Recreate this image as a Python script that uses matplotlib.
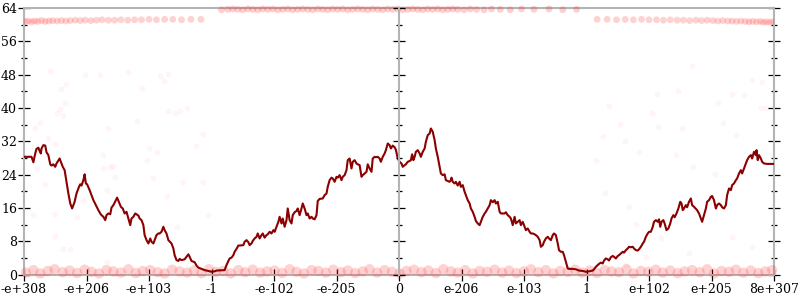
import numpy as np
import matplotlib
matplotlib.use('Agg')
import matplotlib.pyplot as plt

# x positions are encoded on a symmetric scale: -6 .. 6
tick_pos = [-6, -5, -4, -3, -2, -1, 0, 1, 2, 3, 4, 5, 6]
tick_labels = ['-e+308', '-e+206', '-e+103', '-1', '-e-102', '-e-205', '0',
               'e-206', 'e-103', '1', 'e+102', 'e+205', '8e+307']

# line
q1 = [(-6.02, 28.3), (-5.88, 28.3), (-5.85, 27.0), (-5.82, 29.1), (-5.80, 30.2), (-5.77, 30.5),
      (-5.75, 29.7), (-5.73, 29.1), (-5.72, 30.3), (-5.69, 31.1), (-5.66, 31.0), (-5.64, 29.4),
      (-5.61, 28.7), (-5.58, 26.5), (-5.56, 26.2), (-5.53, 26.5), (-5.50, 25.9), (-5.48, 26.7),
      (-5.43, 27.9), (-5.41, 27.1), (-5.38, 25.9), (-5.35, 25.1), (-5.32, 22.3), (-5.29, 19.5),
      (-5.26, 17.1), (-5.23, 15.9), (-5.19, 17.5), (-5.16, 19.5), (-5.12, 21.1), (-5.10, 21.7),
      (-5.08, 21.4), (-5.05, 22.7), (-5.03, 24.1), (-5.01, 21.9), (-4.99, 21.7), (-4.95, 20.3),
      (-4.92, 19.1), (-4.89, 17.9), (-4.85, 16.7), (-4.81, 15.5), (-4.78, 14.7), (-4.76, 14.3),
      (-4.73, 13.9), (-4.70, 13.1), (-4.68, 14.3), (-4.65, 14.7), (-4.62, 14.5), (-4.60, 16.1),
      (-4.57, 16.7), (-4.53, 17.9), (-4.51, 18.5), (-4.48, 17.4), (-4.45, 16.3), (-4.42, 15.9),
      (-4.39, 14.7), (-4.36, 15.1), (-4.33, 13.5), (-4.30, 11.9), (-4.28, 13.5), (-4.25, 13.9),
      (-4.22, 14.7), (-4.20, 14.5), (-4.17, 14.2), (-4.15, 13.5), (-4.12, 13.1), (-4.09, 11.9),
      (-4.07, 9.5), (-4.04, 8.3), (-4.01, 7.5), (-3.98, 8.7), (-3.96, 7.9), (-3.93, 7.5),
      (-3.91, 8.3), (-3.88, 9.5), (-3.85, 9.9), (-3.83, 9.9), (-3.80, 10.3), (-3.77, 11.5),
      (-3.75, 10.7), (-3.72, 9.9), (-3.69, 8.3), (-3.64, 7.5), (-3.61, 6.3), (-3.59, 4.7),
      (-3.56, 3.5), (-3.53, 3.3), (-3.51, 3.8), (-3.48, 3.5), (-3.43, 3.7), (-3.40, 4.3),
      (-3.37, 4.9), (-3.35, 4.3), (-3.32, 3.3), (-3.27, 3.0), (-3.24, 2.2), (-3.21, 1.7),
      (-3.16, 1.4), (-3.11, 1.1), (-3.05, 0.9), (-3.00, 0.7)]
q2 = [(-2.95, 0.8), (-2.92, 1.0), (-2.79, 1.1), (-2.76, 2.3), (-2.73, 3.3), (-2.71, 3.9),
      (-2.68, 4.1), (-2.65, 4.7), (-2.63, 5.5), (-2.60, 6.2), (-2.57, 7.0), (-2.55, 7.0),
      (-2.49, 7.1), (-2.47, 7.9), (-2.44, 8.3), (-2.41, 7.8), (-2.39, 7.1), (-2.36, 7.5),
      (-2.34, 8.1), (-2.31, 8.7), (-2.28, 9.1), (-2.26, 9.9), (-2.23, 8.7), (-2.20, 9.5),
      (-2.18, 9.9), (-2.15, 8.9), (-2.12, 9.5), (-2.10, 9.7), (-2.07, 10.3), (-2.04, 9.9),
      (-2.01, 10.7), (-1.99, 10.3), (-1.96, 11.5), (-1.93, 12.7), (-1.91, 13.9), (-1.88, 12.3),
      (-1.86, 13.5), (-1.83, 11.5), (-1.80, 13.1), (-1.78, 15.9), (-1.75, 13.1), (-1.72, 12.3),
      (-1.70, 14.3), (-1.67, 15.0), (-1.64, 15.3), (-1.62, 15.9), (-1.59, 14.3), (-1.56, 15.9),
      (-1.54, 17.1), (-1.51, 15.9), (-1.48, 14.3), (-1.46, 14.7), (-1.43, 13.5), (-1.40, 13.9),
      (-1.38, 13.5), (-1.35, 13.3), (-1.32, 14.3), (-1.30, 17.7), (-1.27, 18.2), (-1.22, 18.3),
      (-1.19, 19.1), (-1.16, 19.5), (-1.14, 21.1), (-1.11, 22.7), (-1.08, 23.3), (-1.06, 23.1),
      (-1.03, 22.3), (-1.00, 23.5), (-0.98, 23.3), (-0.95, 23.9), (-0.92, 22.7), (-0.90, 23.5),
      (-0.87, 23.9), (-0.84, 25.1), (-0.82, 27.5), (-0.79, 27.9), (-0.76, 25.5), (-0.74, 27.1),
      (-0.71, 27.5), (-0.68, 26.7), (-0.66, 26.5), (-0.63, 26.3), (-0.60, 23.5), (-0.58, 23.9),
      (-0.55, 24.3), (-0.52, 24.7), (-0.50, 26.5), (-0.47, 25.5), (-0.44, 24.7), (-0.42, 27.9),
      (-0.39, 28.3), (-0.37, 28.2), (-0.34, 28.3), (-0.31, 27.9), (-0.29, 27.1), (-0.26, 28.3),
      (-0.23, 29.1), (-0.21, 29.9), (-0.18, 31.5), (-0.15, 31.1), (-0.13, 30.3), (-0.10, 31.0),
      (-0.07, 30.6), (-0.05, 30.0), (-0.02, 27.9)]
q3 = [(0.01, 27.1), (0.04, 26.7), (0.06, 25.9), (0.09, 26.3), (0.11, 26.5), (0.14, 27.1),
      (0.17, 27.3), (0.19, 27.5), (0.21, 28.9), (0.23, 27.5), (0.25, 28.3), (0.27, 29.5),
      (0.30, 29.9), (0.33, 29.1), (0.35, 28.3), (0.38, 29.5), (0.41, 30.3), (0.43, 31.9),
      (0.46, 33.5), (0.49, 33.9), (0.51, 35.1), (0.54, 34.3), (0.57, 32.3), (0.59, 30.3),
      (0.62, 28.3), (0.65, 25.9), (0.67, 24.3), (0.70, 23.9), (0.73, 24.1), (0.75, 22.7),
      (0.78, 22.5), (0.81, 22.3), (0.83, 22.7), (0.84, 23.3), (0.86, 22.3), (0.89, 21.9),
      (0.91, 22.3), (0.94, 21.4), (0.97, 22.3), (0.99, 21.1), (1.02, 21.5), (1.05, 19.9),
      (1.07, 19.1), (1.10, 17.9), (1.13, 17.1), (1.15, 15.9), (1.18, 15.1), (1.21, 13.9),
      (1.23, 12.9), (1.26, 12.3), (1.29, 11.9), (1.31, 12.7), (1.34, 13.9), (1.37, 14.7),
      (1.39, 15.1), (1.42, 15.9), (1.45, 16.7), (1.47, 17.9), (1.50, 17.4), (1.53, 17.9),
      (1.55, 17.1), (1.58, 17.5), (1.61, 15.1), (1.63, 14.7), (1.69, 14.7), (1.71, 15.0),
      (1.74, 14.3), (1.77, 13.9), (1.79, 13.5), (1.82, 11.9), (1.85, 13.9), (1.87, 12.3),
      (1.90, 12.7), (1.93, 13.1), (1.95, 11.9), (1.98, 12.7), (2.01, 11.5), (2.03, 10.7),
      (2.06, 11.1), (2.09, 10.3), (2.11, 9.9), (2.14, 9.9), (2.17, 9.7), (2.19, 9.5),
      (2.22, 9.1), (2.25, 8.3), (2.27, 6.7), (2.30, 7.1), (2.32, 7.9), (2.35, 8.7),
      (2.38, 9.1), (2.40, 8.7), (2.43, 8.3), (2.46, 9.5), (2.48, 9.9), (2.51, 9.5),
      (2.54, 7.5), (2.56, 5.9), (2.59, 5.5), (2.62, 5.5), (2.64, 4.7), (2.67, 3.1),
      (2.70, 1.5), (2.72, 1.4), (2.78, 1.4), (2.83, 1.3), (2.88, 1.0), (2.94, 0.9), (2.99, 0.7)]
q4 = [(3.04, 0.8), (3.10, 1.0), (3.12, 1.3), (3.15, 1.9), (3.18, 2.3), (3.20, 2.6),
      (3.23, 2.9), (3.26, 2.7), (3.28, 3.4), (3.31, 3.9), (3.34, 3.7), (3.36, 3.4),
      (3.39, 4.2), (3.42, 4.5), (3.44, 4.3), (3.47, 3.9), (3.50, 4.5), (3.52, 4.7),
      (3.55, 5.1), (3.58, 5.5), (3.60, 5.3), (3.63, 5.9), (3.66, 6.3), (3.68, 6.7),
      (3.71, 6.6), (3.74, 6.7), (3.76, 6.3), (3.79, 5.9), (3.82, 5.8), (3.84, 6.1),
      (3.87, 6.7), (3.90, 7.5), (3.92, 7.9), (3.95, 9.1), (3.98, 9.9), (4.00, 10.3),
      (4.03, 10.3), (4.06, 11.5), (4.08, 12.7), (4.11, 13.1), (4.14, 12.7), (4.16, 13.3),
      (4.18, 11.5), (4.20, 12.7), (4.23, 13.1), (4.25, 12.3), (4.28, 10.7), (4.31, 11.1),
      (4.34, 12.3), (4.36, 13.5), (4.39, 14.3), (4.41, 13.8), (4.44, 14.7), (4.47, 15.9),
      (4.50, 17.5), (4.52, 17.1), (4.54, 15.5), (4.56, 15.9), (4.59, 16.7), (4.61, 16.2),
      (4.64, 17.5), (4.67, 18.3), (4.69, 16.7), (4.72, 16.3), (4.77, 15.5), (4.80, 14.7),
      (4.83, 13.5), (4.85, 12.7), (4.88, 14.3), (4.91, 15.9), (4.93, 17.5), (4.96, 17.9),
      (4.99, 18.7), (5.01, 18.9), (5.04, 17.9), (5.07, 15.9), (5.09, 16.7), (5.12, 17.1),
      (5.15, 16.7), (5.17, 16.2), (5.20, 15.9), (5.23, 16.7), (5.25, 19.1), (5.28, 20.7),
      (5.31, 20.3), (5.33, 21.5), (5.36, 21.9), (5.39, 22.7), (5.41, 23.1), (5.44, 24.3),
      (5.47, 25.1), (5.49, 24.3), (5.52, 25.5), (5.55, 26.7), (5.57, 27.5), (5.60, 28.3),
      (5.63, 28.7), (5.65, 27.9), (5.68, 29.5), (5.71, 28.7), (5.72, 29.9), (5.74, 27.5),
      (5.76, 28.7), (5.79, 27.9), (5.81, 27.1), (5.84, 26.7), (5.89, 26.6), (6.00, 26.6)]

# faint sample points: the dense bands ...
low_x = [-5.97, -5.85, -5.74, -5.62, -5.51, -5.38, -5.27, -5.15, -5.03, -4.92, -4.80, -4.68,
         -4.57, -4.45, -4.33, -4.21, -4.10, -3.98, -3.86, -3.75, -3.63, -3.51, -3.39, -3.28,
         -3.16, -3.04, -2.93, -2.81, -2.69, -2.57, -2.46, -2.34, -2.22, -2.11, -1.99, -1.87,
         -1.75, -1.64, -1.52, -1.40, -1.29, -1.17, -1.05, -0.93, -0.82, -0.70, -0.58, -0.47,
         -0.35, -0.23, -0.11, 0.01, 0.12, 0.24, 0.36, 0.47, 0.59, 0.71, 0.83, 0.94,
         1.06, 1.18, 1.29, 1.41, 1.53, 1.65, 1.76, 1.88, 2.00, 2.11, 2.23, 2.35,
         2.47, 2.58, 2.70, 2.82, 2.93, 3.05, 3.17, 3.29, 3.40, 3.52, 3.64, 3.75,
         3.87, 3.99, 4.11, 4.22, 4.34, 4.46, 4.57, 4.69, 4.81, 4.93, 5.04, 5.16,
         5.28, 5.39, 5.51, 5.63, 5.75, 5.86, 5.97]
low_y = [0.5, 1.1, 0.3, 0.9, 1.3, 0.6, 1.0, 0.4, 1.2, 0.7, 0.3, 1.1,
         0.8, 0.5, 1.3, 0.4, 0.9, 1.1, 0.6, 0.3, 1.2, 0.8, 0.5, 1.0,
         0.4, 1.3, 0.7, 0.9, 0.3, 1.1, 0.6, 1.2, 0.5, 0.8, 1.0, 0.4,
         1.3, 0.7, 0.3, 1.1, 0.9, 0.5, 1.2, 0.6, 1.0, 0.4, 0.8, 1.3,
         0.5, 1.1, 0.7, 0.3, 0.9, 1.2, 0.6, 1.0, 0.4, 1.3, 0.8, 0.5,
         1.1, 0.3, 0.9, 0.7, 1.2, 0.5, 1.0, 0.4, 0.8, 1.3, 0.6, 1.1,
         0.3, 0.9, 0.7, 1.2, 0.5, 1.0, 0.4, 1.1, 0.8, 0.6, 1.3, 0.3,
         0.9, 0.7, 1.2, 0.5, 1.0, 0.4, 0.8, 1.1, 0.6, 1.3, 0.3, 0.9,
         0.7, 1.2, 0.5, 1.0, 0.4, 0.8, 1.1]
topl_x = [-5.98, -5.93, -5.88, -5.83, -5.78, -5.72, -5.66, -5.60, -5.54, -5.47, -5.40, -5.33,
          -5.26, -5.18, -5.10, -5.02, -4.93, -4.84, -4.75, -4.65, -4.55, -4.45, -4.34, -4.23,
          -4.12, -4.00, -3.88, -3.75, -3.62, -3.48, -3.33, -3.17]
topl_y = [60.8, 60.9, 60.7, 60.9, 60.8, 61.0, 60.8, 60.9, 61.0, 60.9, 61.0, 60.9,
          61.0, 61.1, 61.0, 61.1, 61.0, 61.1, 61.2, 61.1, 61.1, 61.2, 61.1, 61.2,
          61.2, 61.3, 61.2, 61.3, 61.3, 61.2, 61.3, 61.3]
topm_x = [-2.84, -2.74, -2.66, -2.58, -2.50, -2.42, -2.34, -2.26, -2.18, -2.10, -2.02, -1.94,
          -1.86, -1.78, -1.70, -1.62, -1.54, -1.46, -1.38, -1.30, -1.22, -1.14, -1.06, -0.98,
          -0.90, -0.82, -0.74, -0.66, -0.58, -0.50, -0.42, -0.34, -0.26, -0.18, -0.10, -0.02,
          0.06, 0.14, 0.22, 0.30, 0.38, 0.46, 0.54, 0.62, 0.70, 0.78, 0.86, 0.94,
          1.04, 1.14, 1.24, 1.36, 1.48, 1.62, 1.78, 1.96, 2.16, 2.40, 2.62, 2.84]
topm_y = [63.6, 63.7, 63.8, 63.7, 63.6, 63.8, 63.7, 63.6, 63.8, 63.7, 63.8, 63.6,
          63.7, 63.8, 63.6, 63.7, 63.8, 63.7, 63.6, 63.8, 63.7, 63.6, 63.8, 63.7,
          63.8, 63.6, 63.7, 63.8, 63.7, 63.6, 63.8, 63.7, 63.6, 63.8, 63.7, 63.8,
          63.6, 63.7, 63.8, 63.7, 63.6, 63.8, 63.7, 63.8, 63.6, 63.7, 63.8, 63.7,
          63.6, 63.8, 63.7, 63.6, 63.8, 63.7, 63.6, 63.8, 63.7, 63.8, 63.6, 63.7]
topr_x = [3.17, 3.33, 3.48, 3.62, 3.75, 3.88, 4.00, 4.12, 4.23, 4.34, 4.45, 4.55,
          4.65, 4.75, 4.84, 4.93, 5.02, 5.10, 5.18, 5.26, 5.33, 5.40, 5.47, 5.54,
          5.60, 5.66, 5.72, 5.78, 5.83, 5.88, 5.93, 5.98]
topr_y = [61.3, 61.3, 61.2, 61.3, 61.2, 61.3, 61.2, 61.2, 61.1, 61.2, 61.1, 61.1,
          61.0, 61.1, 61.0, 61.1, 61.0, 60.9, 61.0, 60.9, 60.9, 60.8, 60.9, 60.8,
          60.7, 60.8, 60.7, 60.8, 60.6, 60.7, 60.6, 60.7]
# ... and the stray ones
stray_x = [-5.82, -5.74, -5.58, -5.61, -5.50, -5.48, -5.43, -5.41, -5.37, -5.34, -5.33, -5.02,
           -4.78, -4.65, -4.34, -4.20, -4.12, -4.00, -3.83, -3.76, -3.70, -3.69, -3.59, -3.51,
           -3.39, -3.25, -3.14, -5.80, -5.66, -5.50, -5.85, -5.50, -5.37, -5.26, -5.16, -5.05,
           -4.73, -4.73, -4.62, -4.57, -4.54, -4.68, -4.68, -4.04, -3.93, -3.88, -3.72, -3.56,
           -3.45, -3.13, -3.05,
           4.69, 5.65, 5.81, 4.12, 4.46, 5.33, 5.52, 3.36, 5.11, 5.79, 5.87, 4.05,
           3.53, 4.15, 4.53, 5.19, 3.27, 3.62, 5.39, 3.15, 3.30, 3.84, 4.43, 4.71,
           5.06, 5.65, 3.68, 3.79, 4.19, 4.64, 5.33, 5.65, 3.42, 3.95, 3.63]
stray_y = [35.3, 36.5, 48.9, 32.7, 31.4, 38.7, 39.7, 44.5, 38.1, 41.1, 45.9, 47.9,
           47.9, 35.3, 48.7, 36.9, 44.9, 30.5, 47.7, 46.5, 48.3, 39.3, 38.7, 39.3,
           40.1, 31.0, 33.8, 25.5, 21.7, 14.6, 14.3, 9.3, 6.1, 6.1, 13.9, 17.9,
           28.7, 25.5, 25.9, 26.1, 23.5, 20.3, 3.1, 27.5, 23.1, 29.5, 18.9, 11.4,
           22.3, 22.3, 14.3,
           50.1, 46.7, 46.3, 43.3, 44.1, 43.3, 43.1, 40.5, 41.3, 39.9, 39.9, 38.7,
           36.1, 35.4, 35.3, 36.5, 33.3, 32.1, 33.5, 27.5, 19.7, 29.5, 28.7, 25.9,
           24.2, 28.7, 16.3, 12.2, 8.7, 5.1, 9.1, 6.6, 5.5, 4.3, 2.3]

line = q1 + q2 + q3 + q4
line_x = np.array([p[0] for p in line])
line_y = np.array([p[1] for p in line])

plt.rcParams['font.family'] = 'DejaVu Serif'
plt.rcParams['font.size'] = 9

fig = plt.figure(figsize=(8, 3), dpi=100)
ax = fig.add_axes([0.03, 0.0843, 0.9375, 0.8887])

red = '#ff2020'
ax.scatter(stray_x, stray_y, s=13, c=red, edgecolors=red, linewidths=0.6,
           alpha=0.035, zorder=3)
ax.scatter(low_x, low_y, s=56, c=red, edgecolors='none',
           alpha=0.2, zorder=3, clip_on=False)
ax.scatter(topl_x, topl_y, s=24, c=red, edgecolors='none',
           alpha=0.2, zorder=3)
ax.scatter(topm_x, topm_y, s=24, c=red, edgecolors='none',
           alpha=0.22, zorder=3, clip_on=False)
ax.scatter(topr_x, topr_y, s=24, c=red, edgecolors='none',
           alpha=0.2, zorder=3)

ax.plot(line_x, line_y, color='#8b0000', lw=1.5, zorder=4)

ax.set_xlim(-6, 6)
ax.set_ylim(0, 64)
ax.set_yticks(np.arange(0, 65, 8))
ax.set_yticks(np.arange(4, 64, 8), minor=True)
ax.set_xticks(tick_pos)
ax.set_xticklabels(tick_labels)

for s in ax.spines.values():
    s.set_color('#b4b4b4')
    s.set_linewidth(1.5)

ax.tick_params(axis='y', which='both', direction='inout', left=True, right=True,
               color='black', width=0.9, pad=1)
ax.tick_params(axis='y', which='major', length=8)
ax.tick_params(axis='y', which='minor', length=4)
ax.tick_params(axis='x', direction='inout', length=8, width=0.9, color='black', pad=2)

# middle axis at x = 0, ticks crossing it
ax2 = fig.add_axes(ax.get_position(), sharex=ax, sharey=ax)
ax2.patch.set_visible(False)
for k in ['top', 'right', 'bottom']:
    ax2.spines[k].set_visible(False)
ax2.spines['left'].set_position(('data', 0))
ax2.spines['left'].set_color('#b4b4b4')
ax2.spines['left'].set_linewidth(1.5)
ax2.tick_params(axis='y', which='both', direction='inout', color='black', width=0.9,
                labelleft=False)
ax2.tick_params(axis='y', which='major', length=8)
ax2.tick_params(axis='y', which='minor', length=4)
ax2.tick_params(axis='x', bottom=False, labelbottom=False)

fig.savefig('out.png', dpi=100)
